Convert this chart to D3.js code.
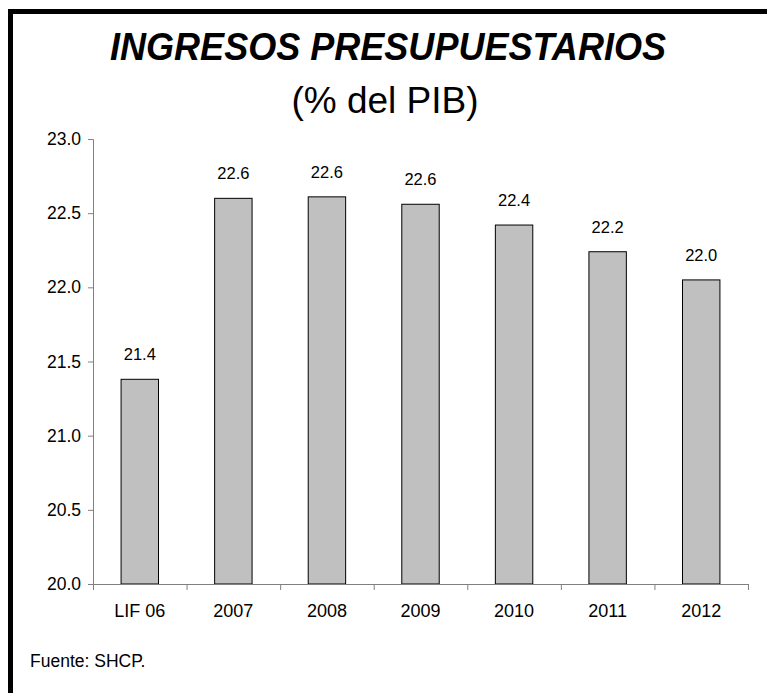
<!DOCTYPE html>
<html><head><meta charset="utf-8">
<script src="https://cdn.jsdelivr.net/npm/d3@7"></script>
<style>body{margin:0;background:#fff}svg{display:block}text{font-family:"Liberation Sans",Arial,sans-serif}</style>
</head><body><svg id="c" width="767" height="693"></svg>
<script>
const categories = ["LIF 06","2007","2008","2009","2010","2011","2012"];
const values = [21.38, 22.60, 22.61, 22.56, 22.42, 22.24, 22.05];
const valueLabels = ["21.4","22.6","22.6","22.6","22.4","22.2","22.0"];
const yTicks = [20.0, 20.5, 21.0, 21.5, 22.0, 22.5, 23.0];

const svg = d3.select("#c");
// frame
svg.append("rect").attr("x",10.5).attr("y",11.5).attr("width",800).attr("height",720)
  .attr("fill","none").attr("stroke","#000").attr("stroke-width",5);

svg.append("text").attr("x",388).attr("y",60).attr("text-anchor","middle")
  .attr("font-size",38).attr("font-weight","bold").attr("font-style","italic")
  .attr("textLength",556).attr("lengthAdjust","spacingAndGlyphs")
  .text("INGRESOS PRESUPUESTARIOS");
svg.append("text").attr("x",385).attr("y",113).attr("text-anchor","middle")
  .attr("font-size",37).text("(% del PIB)");

const x = d3.scaleBand().domain(categories).range([93,748]).paddingInner(0.6).paddingOuter(0.3);
const y = d3.scaleLinear().domain([20,23]).range([584,139]);

const g = svg.append("g");
// bars
g.selectAll("rect.bar").data(values).join("rect").attr("class","bar")
  .attr("x",(d,i)=>x(categories[i])).attr("width",x.bandwidth())
  .attr("y",d=>y(d)).attr("height",d=>y(20)-y(d))
  .attr("fill","#c0c0c0").attr("stroke","#000").attr("stroke-width",1);

g.selectAll("text.val").data(values).join("text").attr("class","val")
  .attr("x",(d,i)=>x(categories[i])+x.bandwidth()/2).attr("y",d=>y(d)-19)
  .attr("text-anchor","middle").attr("font-size",16.5).text((d,i)=>valueLabels[i]);

// y axis
const yAxis = d3.axisLeft(y).tickValues(yTicks).tickFormat(d3.format(".1f")).tickSize(5).tickPadding(7);
const ya = svg.append("g").attr("transform","translate(93,0)").call(yAxis);
ya.select(".domain").attr("stroke","#808080").attr("d","M-5,139.5H0.5V584.5");
ya.selectAll(".tick line").attr("stroke","#808080");
ya.selectAll(".tick text").attr("font-size",17.5).attr("fill","#000").style("font-family","'Liberation Sans',Arial,sans-serif");

// x axis
const xb = d3.scalePoint().domain(d3.range(categories.length+1)).range([93,748]);
const xa = svg.append("g").attr("transform","translate(0,584)");
xa.append("line").attr("x1",93).attr("x2",748).attr("y1",0.5).attr("y2",0.5).attr("stroke","#808080");
xa.selectAll("line.t").data(d3.range(categories.length+1)).join("line").attr("class","t")
  .attr("x1",d=>xb(d)+0.5).attr("x2",d=>xb(d)+0.5).attr("y1",0).attr("y2",6).attr("stroke","#808080");
xa.selectAll("text").data(categories).join("text")
  .attr("x",d=>x(d)+x.bandwidth()/2).attr("y",33).attr("text-anchor","middle")
  .attr("font-size",18).text(d=>d);

svg.append("text").attr("x",30).attr("y",667).attr("font-size",17.5).text("Fuente: SHCP.");
</script></body></html>
